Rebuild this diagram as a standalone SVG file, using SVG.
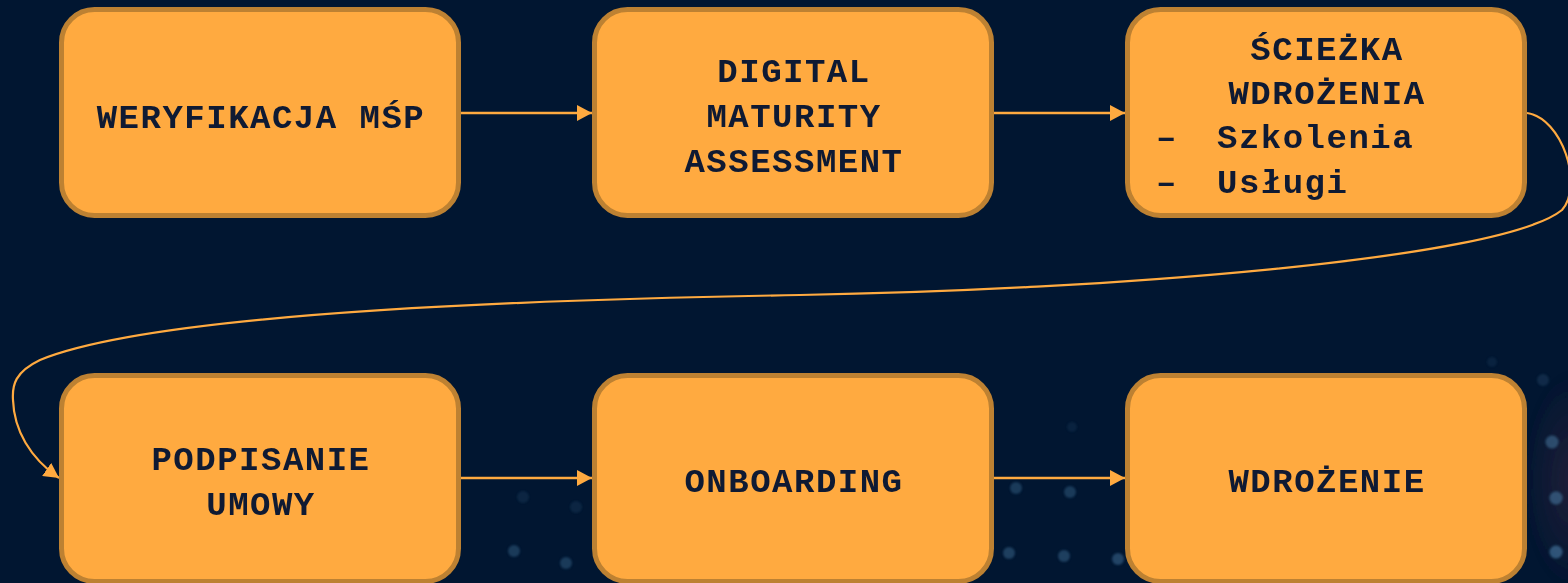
<svg xmlns="http://www.w3.org/2000/svg" width="1568" height="583" viewBox="0 0 1568 583">
  <defs>
    <style>
      .box { fill: #FFAA40; stroke: #BD8132; stroke-width: 5; }
      .lbl { font-family: "Liberation Mono", "Courier New", monospace; font-weight: bold; font-size: 34px; letter-spacing: 1.5px; fill: #0F1A33; text-anchor: middle; }
      .lst { font-family: "Liberation Mono", "Courier New", monospace; font-weight: bold; font-size: 34px; letter-spacing: 1.5px; fill: #0F1A33; }
      .edge { fill: none; stroke: #FFAA40; stroke-width: 2.6; }
      .curve { fill: none; stroke: #FFAA40; stroke-width: 2.2; }
      .dot { fill: #4A7DA6; }
    </style>
    <marker id="arr" markerUnits="userSpaceOnUse" markerWidth="16" markerHeight="16" refX="15" refY="8" orient="auto">
      <path d="M0,0 L15,8 L0,16 z" fill="#FFAA40"/>
    </marker>
    <radialGradient id="glow" cx="0.5" cy="0.5" r="0.5">
      <stop offset="0" stop-color="#3E2740" stop-opacity="0.5"/>
      <stop offset="1" stop-color="#3E2740" stop-opacity="0"/>
    </radialGradient>
    <filter id="soft" x="-50%" y="-50%" width="200%" height="200%">
      <feGaussianBlur stdDeviation="1.2"/>
    </filter>
  </defs>

  <rect x="0" y="0" width="1568" height="583" fill="#011631"/>

  <g id="background-dots" filter="url(#soft)">
    <ellipse cx="1572" cy="480" rx="50" ry="110" fill="url(#glow)"/>
    <circle class="dot" cx="523" cy="497" r="6" opacity="0.15"/>
    <circle class="dot" cx="576" cy="507" r="6" opacity="0.15"/>
    <circle class="dot" cx="514" cy="551" r="6" opacity="0.35"/>
    <circle class="dot" cx="566" cy="563" r="6" opacity="0.35"/>
    <circle class="dot" cx="1016" cy="488" r="6" opacity="0.35"/>
    <circle class="dot" cx="1070" cy="492" r="6" opacity="0.35"/>
    <circle class="dot" cx="1009" cy="553" r="6" opacity="0.4"/>
    <circle class="dot" cx="1064" cy="556" r="6" opacity="0.4"/>
    <circle class="dot" cx="1118" cy="559" r="6" opacity="0.45"/>
    <circle class="dot" cx="1072" cy="427" r="5" opacity="0.12"/>
    <circle class="dot" cx="1492" cy="362" r="5" opacity="0.12"/>
    <circle class="dot" cx="1543" cy="380" r="6" opacity="0.2"/>
    <circle class="dot" cx="1552" cy="442" r="6.5" opacity="0.5"/>
    <circle class="dot" cx="1556" cy="498" r="6.5" opacity="0.55"/>
    <circle class="dot" cx="1556" cy="552" r="6.5" opacity="0.6"/>
  </g>

  <g id="connectors">
    <path class="edge" d="M461,113 L592,113" marker-end="url(#arr)"/>
    <path class="edge" d="M994,113 L1125,113" marker-end="url(#arr)"/>
    <path class="curve" d="M1527,113 C1562,118 1584,185 1562,210 C1500,260 1100,290 800,295 C500,300 150,315 40,360 C15,372 12,385 13,400 C14,430 30,458 59,478" marker-end="url(#arr)"/>
    <path class="edge" d="M461,478 L592,478" marker-end="url(#arr)"/>
    <path class="edge" d="M994,478 L1125,478" marker-end="url(#arr)"/>
  </g>

  <g id="node-weryfikacja">
    <rect class="box" x="61.5" y="9.5" width="397" height="206" rx="33"/>
    <text class="lbl" x="261" y="128">WERYFIKACJA MŚP</text>
  </g>

  <g id="node-digital">
    <rect class="box" x="594.5" y="9.5" width="397" height="206" rx="33"/>
    <text class="lbl" x="794" y="82">DIGITAL</text>
    <text class="lbl" x="794" y="127">MATURITY</text>
    <text class="lbl" x="794" y="172">ASSESSMENT</text>
  </g>

  <g id="node-sciezka">
    <rect class="box" x="1127.5" y="9.5" width="397" height="206" rx="33"/>
    <text class="lbl" x="1327" y="60">ŚCIEŻKA</text>
    <text class="lbl" x="1327" y="104">WDROŻENIA</text>
    <text class="lst" y="148"><tspan x="1156">–</tspan><tspan x="1217">Szkolenia</tspan></text>
    <text class="lst" y="193"><tspan x="1156">–</tspan><tspan x="1217">Usługi</tspan></text>
  </g>

  <g id="node-podpisanie">
    <rect class="box" x="61.5" y="375.5" width="397" height="206" rx="33"/>
    <text class="lbl" x="261" y="470">PODPISANIE</text>
    <text class="lbl" x="261" y="515">UMOWY</text>
  </g>

  <g id="node-onboarding">
    <rect class="box" x="594.5" y="375.5" width="397" height="206" rx="33"/>
    <text class="lbl" x="794" y="492">ONBOARDING</text>
  </g>

  <g id="node-wdrozenie">
    <rect class="box" x="1127.5" y="375.5" width="397" height="206" rx="33"/>
    <text class="lbl" x="1327" y="492">WDROŻENIE</text>
  </g>
</svg>
